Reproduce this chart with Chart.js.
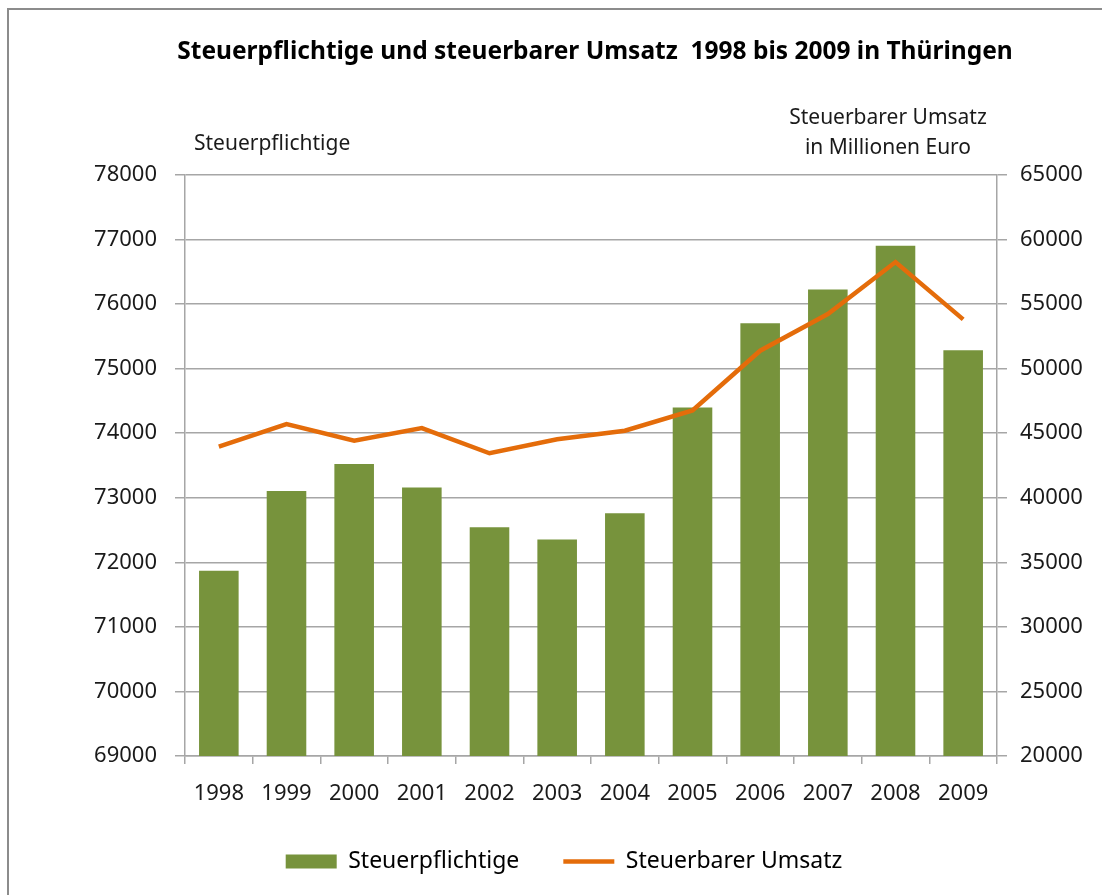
<!DOCTYPE html>
<html>
<head>
<meta charset="utf-8">
<script src="https://cdn.jsdelivr.net/npm/chart.js@4"></script>
<style>
  html, body { margin: 0; padding: 0; background: #fff; }
  #wrap { width: 1102px; height: 895px; }
</style>
</head>
<body>
<div id="wrap"><canvas id="chart" width="1102" height="895"></canvas></div>
<script>
const years = ['1998', '1999', '2000', '2001', '2002', '2003', '2004', '2005', '2006', '2007', '2008', '2009'];
const steuerpflichtige = [71870, 73105, 73525, 73160, 72545, 72355, 72760, 74400, 75705, 76225, 76905, 75285];
const umsatz = [43960, 45710, 44420, 45400, 43450, 44530, 45195, 46770, 51390, 54230, 58260, 53820];

const titleText = 'Steuerpflichtige und steuerbarer Umsatz  1998 bis 2009 in Thüringen';
const leftAxisTitle = ['Steuerpflichtige'];
const rightAxisTitle = ['Steuerbarer Umsatz', 'in Millionen Euro'];

const FONT = "'Noto Sans', 'DejaVu Sans', sans-serif";
const GRID = '#a6a6a6';
const plain = (v) => String(v);

// frame, chart title and axis titles above the plot
const extras = {
    id: 'extras',
    beforeDraw(chart) {
        const ctx = chart.ctx;
        ctx.save();
        ctx.fillStyle = '#fff';
        ctx.fillRect(0, 0, chart.width, chart.height);
        ctx.strokeStyle = '#8c8c8c';
        ctx.lineWidth = 2;
        ctx.beginPath();
        ctx.moveTo(8, chart.height);
        ctx.lineTo(8, 9);
        ctx.lineTo(chart.width, 9);
        ctx.stroke();
        ctx.restore();
    },
    afterDraw(chart) {
        const ctx = chart.ctx;
        const area = chart.chartArea;
        ctx.save();
        ctx.fillStyle = '#000';
        ctx.textBaseline = 'middle';
        ctx.textAlign = 'center';
        ctx.font = 'bold 24.5px ' + FONT;
        ctx.fillText(titleText, (area.left + area.right) / 2 + 4, area.top - 123);

        ctx.fillStyle = '#1a1a1a';
        ctx.font = '21px ' + FONT;
        ctx.textAlign = 'left';
        ctx.fillText(leftAxisTitle[0], area.left + 9, area.top - 31);
        ctx.textAlign = 'center';
        ctx.fillText(rightAxisTitle[0], area.right - 109, area.top - 57);
        ctx.fillText(rightAxisTitle[1], area.right - 109, area.top - 27);
        ctx.restore();
    }
};

new Chart(document.getElementById('chart').getContext('2d'), {
    data: {
        labels: years,
        datasets: [
            {
                type: 'line',
                label: 'Steuerbarer Umsatz',
                data: umsatz,
                yAxisID: 'y1',
                borderColor: '#e46c0a',
                backgroundColor: '#e46c0a',
                borderWidth: 4.5,
                pointRadius: 0,
                tension: 0,
                order: 0
            },
            {
                type: 'bar',
                label: 'Steuerpflichtige',
                data: steuerpflichtige,
                yAxisID: 'y',
                backgroundColor: '#77933c',
                borderWidth: 0,
                categoryPercentage: 1,
                barPercentage: 0.585,
                order: 1
            }
        ]
    },
    plugins: [extras],
    options: {
        responsive: false,
        animation: false,
        layout: { padding: { left: 26, right: 0, top: 175, bottom: 12 } },
        plugins: {
            title: { display: false },
            legend: {
                position: 'bottom',
                labels: {
                    usePointStyle: true,
                    pointStyleWidth: 51,
                    boxHeight: 14,
                    padding: 44,
                    color: '#1a1a1a',
                    font: { family: FONT, size: 23 },
                    generateLabels: (chart) => [1, 0].map(i => {
                        const ds = chart.data.datasets[i];
                        return {
                            text: ds.label,
                            fillStyle: ds.backgroundColor,
                            strokeStyle: ds.type === 'line' ? ds.borderColor : ds.backgroundColor,
                            lineWidth: ds.type === 'line' ? 4.5 : 0,
                            pointStyle: ds.type === 'line' ? 'line' : 'rect',
                            datasetIndex: i,
                            hidden: false
                        };
                    })
                }
            },
            tooltip: { enabled: false }
        },
        scales: {
            x: {
                offset: true,
                grid: { drawOnChartArea: false, drawTicks: true, tickLength: 8, color: GRID, lineWidth: 1.5, offset: true },
                border: { color: GRID, width: 1.5 },
                ticks: { color: '#1a1a1a', font: { family: FONT, size: 22 }, padding: 17, maxRotation: 0 },
                afterFit: (s) => { s.height = 50; }
            },
            y: {
                position: 'left',
                min: 69000,
                max: 78000,
                ticks: { stepSize: 1000, callback: plain, color: '#1a1a1a', font: { family: FONT, size: 22 }, padding: 18 },
                grid: { color: GRID, lineWidth: 1.5, tickLength: 10 },
                border: { color: GRID, width: 1.5 },
                afterFit: (s) => { s.width = 159; }
            },
            y1: {
                position: 'right',
                min: 20000,
                max: 65000,
                ticks: { stepSize: 5000, callback: plain, color: '#1a1a1a', font: { family: FONT, size: 22 }, padding: 13 },
                grid: { drawOnChartArea: false, color: GRID, lineWidth: 1.5, tickLength: 10 },
                border: { color: GRID, width: 1.5 },
                afterFit: (s) => { s.width = 105; }
            }
        }
    }
});
</script>
</body>
</html>
